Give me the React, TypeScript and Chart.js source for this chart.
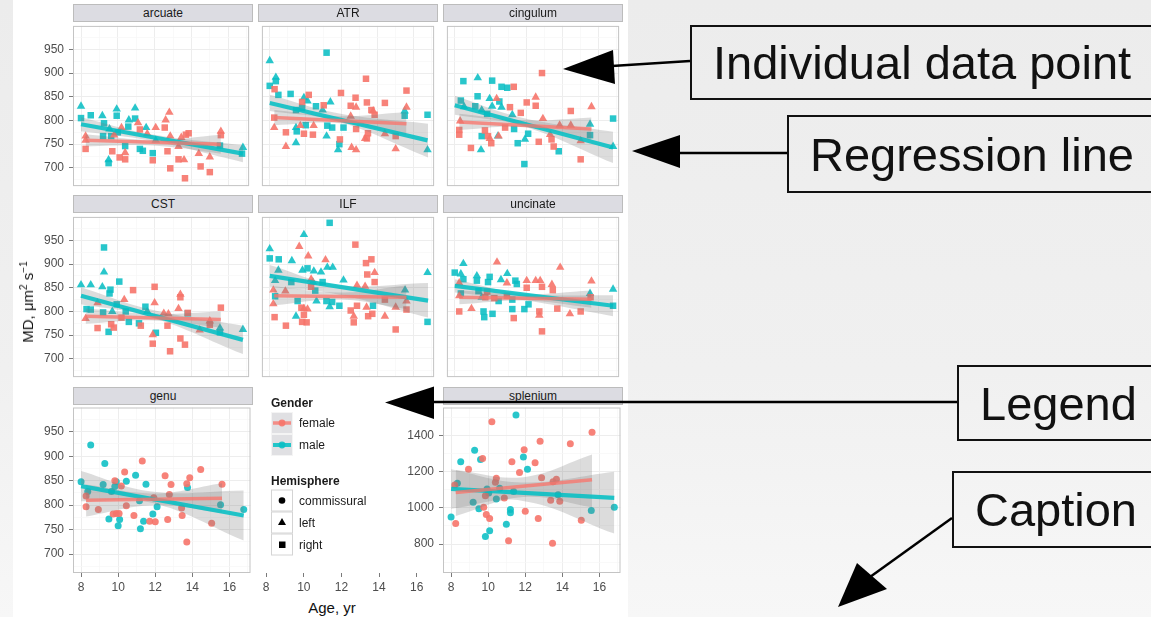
import React, { useEffect, useRef } from "react";
import { Chart, registerables } from "chart.js";
Chart.register(...registerables);

type Pt = [number, number];
type Band = [number, number, number];

const FONT = '"Liberation Sans", Arial, Helvetica, sans-serif';

// ---------- axes ----------
const AGE_MIN = 7.565;
const AGE_MAX = 17.135;
const ageMajorTicks = [8, 10, 12, 14, 16];
const ageMinorTicks = [9, 11, 13, 15, 17];
const mdMin = 661.5;
const mdMax = 999.5;
const mdMajorTicks = [700, 750, 800, 850, 900, 950];
const mdMinorTicks = [675, 725, 775, 825, 875, 925, 975];
const splMin = 640;
const splMax = 1555;
const splMajorTicks = [800, 1000, 1200, 1400];
const splMinorTicks = [700, 900, 1100, 1300, 1500];

// ---------- data: [age, MD] ----------
const arcuateMaleLeft: Pt[] = [[8.0, 830], [9.16, 810], [9.94, 824], [10.94, 826], [10.6, 801], [11.54, 785], [9.55, 782], [9.5, 717], [12.06, 758], [16.8, 743]];
const arcuateMaleRight: Pt[] = [[8.0, 805], [8.53, 811], [9.25, 794], [9.94, 810], [10.94, 804], [10.57, 787], [9.2, 767], [9.64, 767], [10.0, 775], [10.4, 746], [11.2, 740], [11.36, 736], [11.9, 731], [9.5, 710], [15.55, 747], [16.75, 730]];
const arcuateFemaleLeft: Pt[] = [[8.25, 767], [8.25, 758], [9.8, 769], [10.4, 732], [10.2, 785], [11.1, 795], [12.06, 785], [12.6, 801], [12.8, 817], [11.6, 772], [12.85, 767], [13.3, 745], [13.6, 717], [13.45, 764], [14.4, 730], [15.0, 723], [15.6, 777]];
const arcuateFemaleRight: Pt[] = [[8.25, 740], [9.7, 735], [10.1, 722], [10.4, 718], [11.2, 781], [12.55, 785], [11.9, 716], [12.7, 735], [12.85, 699], [13.3, 718], [13.7, 770], [13.85, 773], [13.65, 678], [14.5, 703], [15.0, 691], [15.6, 769]];

const atrMaleLeft: Pt[] = [[8.0, 926], [8.34, 891], [9.9, 848], [10.1, 841], [10.94, 822], [11.37, 839], [9.46, 785], [9.46, 753], [11.16, 767], [11.8, 738], [15.5, 820], [16.77, 738]];
const atrMaleRight: Pt[] = [[8.34, 883], [8.0, 873], [8.48, 854], [9.16, 856], [11.16, 943], [9.8, 826], [10.57, 830], [9.46, 822], [10.0, 790], [9.5, 777], [11.2, 789], [11.47, 785], [12.1, 785], [11.87, 750], [15.5, 810], [16.77, 812]];
const atrFemaleLeft: Pt[] = [[8.25, 785], [8.9, 745], [9.7, 789], [10.44, 789], [12.8, 828], [12.5, 809], [12.55, 743], [12.8, 738], [13.3, 762], [14.4, 772], [15.0, 740], [15.6, 828], [13.75, 820]];
const atrFemaleRight: Pt[] = [[8.27, 866], [8.25, 806], [8.9, 775], [10.17, 854], [9.8, 839], [9.9, 772], [10.4, 770], [11.0, 832], [11.96, 858], [12.5, 831], [12.77, 848], [11.9, 760], [12.8, 782], [13.35, 888], [13.4, 838], [13.65, 822], [13.83, 812], [13.46, 773], [13.4, 762], [14.4, 837], [15.0, 767], [15.6, 863]];

const cingulumMaleLeft: Pt[] = [[9.28, 890], [9.94, 846], [8.52, 829], [9.5, 822], [10.08, 830], [10.6, 828], [11.2, 812], [10.4, 767], [9.46, 738], [15.52, 792], [16.8, 745], [11.9, 760]];
const cingulumMaleRight: Pt[] = [[8.48, 883], [10.08, 884], [10.6, 871], [10.92, 869], [9.27, 851], [10.48, 840], [8.34, 842], [9.14, 830], [9.8, 814], [11.3, 782], [9.5, 767], [11.5, 752], [12.08, 772], [11.87, 708], [15.52, 769], [16.8, 804], [13.78, 735]];
const cingulumFemaleLeft: Pt[] = [[10.33, 846], [12.5, 849], [12.9, 804], [15.6, 829], [8.3, 799], [10.44, 767], [13.83, 790], [14.45, 790], [15.0, 757], [13.3, 770], [9.95, 762]];
const cingulumFemaleRight: Pt[] = [[12.85, 900], [11.28, 871], [11.07, 828], [11.67, 816], [12.5, 831], [14.45, 820], [8.25, 780], [8.25, 770], [8.9, 742], [9.68, 779], [9.85, 767], [10.03, 752], [10.8, 785], [12.67, 755], [13.38, 760], [13.5, 745], [15.0, 718], [12.0, 838]];

const cstMaleLeft: Pt[] = [[8.0, 856], [8.53, 856], [9.25, 883], [9.16, 852], [9.7, 800], [15.55, 765], [16.8, 762], [11.6, 800]];
const cstMaleRight: Pt[] = [[9.25, 935], [9.6, 846], [9.55, 838], [10.08, 863], [8.3, 805], [8.53, 804], [9.2, 798], [9.94, 815], [10.43, 800], [9.5, 757], [10.6, 778], [11.15, 775], [11.5, 810], [12.07, 755], [13.8, 796], [15.55, 756]];
const cstFemaleLeft: Pt[] = [[8.25, 785], [8.9, 818], [10.35, 825], [12.0, 818], [11.9, 751], [12.5, 796], [13.4, 836], [13.3, 806], [14.45, 761], [15.0, 780], [12.75, 795]];
const cstFemaleRight: Pt[] = [[8.9, 765], [9.64, 773], [9.78, 766], [10.83, 845], [12.0, 852], [11.9, 732], [12.84, 716], [13.4, 830], [13.8, 797], [13.4, 743], [13.65, 730], [15.6, 808], [11.25, 770], [12.7, 770], [15.0, 772], [10.2, 787]];

const ilfMaleLeft: Pt[] = [[9.9, 962], [8.0, 932], [9.23, 907], [9.82, 887], [10.45, 885], [10.85, 883], [11.2, 893], [11.5, 893], [8.48, 887], [8.3, 865], [12.1, 866], [10.6, 822], [11.33, 810], [9.46, 790], [15.52, 845], [16.77, 882], [10.4, 862]];
const ilfMaleRight: Pt[] = [[11.33, 987], [8.0, 912], [8.5, 910], [10.1, 891], [10.94, 862], [10.53, 844], [9.55, 822], [11.15, 822], [11.47, 820], [11.87, 812], [13.74, 812], [16.77, 778], [8.3, 832], [9.2, 862]];
const ilfFemaleLeft: Pt[] = [[9.64, 937], [10.14, 917], [11.1, 909], [13.83, 882], [12.85, 855], [13.3, 853], [8.2, 845], [8.2, 816], [8.87, 843], [10.3, 868], [9.9, 806], [12.67, 790], [13.38, 809], [14.4, 790], [15.0, 809], [15.6, 822], [10.1, 805]];
const ilfFemaleRight: Pt[] = [[12.76, 941], [13.35, 902], [13.65, 910], [13.42, 878], [13.83, 862], [8.27, 788], [8.9, 770], [9.76, 808], [9.9, 793], [9.8, 778], [10.05, 777], [10.3, 852], [12.5, 802], [12.85, 812], [12.67, 777], [13.47, 790], [13.7, 795], [14.4, 825], [15.0, 762], [15.6, 804]];

const uncinateMaleLeft: Pt[] = [[8.48, 901], [8.34, 879], [9.23, 875], [10.57, 867], [10.92, 880], [9.5, 830], [15.52, 838], [16.8, 847]];
const uncinateMaleRight: Pt[] = [[8.0, 882], [8.48, 868], [9.23, 865], [9.94, 873], [9.85, 862], [11.37, 865], [11.45, 858], [9.32, 843], [8.34, 838], [10.44, 822], [11.2, 825], [12.1, 815], [11.87, 805], [9.6, 800], [9.64, 788], [10.1, 795], [11.2, 805], [16.8, 812]];
const uncinateFemaleLeft: Pt[] = [[10.35, 904], [13.86, 893], [15.6, 864], [12.0, 865], [12.5, 865], [12.75, 865], [13.4, 857], [10.9, 860], [8.25, 860], [8.25, 833], [8.93, 806], [12.7, 792], [14.4, 795]];
const uncinateFemaleRight: Pt[] = [[12.0, 850], [12.85, 852], [13.45, 845], [8.25, 800], [9.7, 830], [9.8, 842], [10.2, 828], [10.9, 833], [11.28, 786], [12.7, 800], [12.85, 758], [13.7, 806], [15.0, 800], [15.55, 830]];

const genuMale: Pt[] = [[8.0, 848], [8.52, 923], [8.36, 828], [9.28, 885], [9.19, 842], [9.64, 828], [9.82, 838], [9.9, 848], [10.44, 849], [10.94, 861], [11.5, 843], [9.5, 772], [10.08, 771], [10.0, 758], [11.15, 809], [11.2, 752], [11.37, 767], [11.87, 782], [12.1, 797], [13.74, 836], [15.52, 801], [16.77, 791]];
const genuFemale: Pt[] = [[8.27, 819], [8.27, 797], [8.93, 791], [9.82, 850], [10.17, 839], [10.35, 868], [10.44, 799], [9.73, 782], [9.9, 783], [10.05, 783], [10.85, 779], [11.3, 890], [11.92, 815], [11.7, 767], [12.0, 766], [12.53, 860], [12.85, 842], [12.76, 822], [12.67, 771], [13.42, 794], [13.45, 779], [13.7, 844], [13.86, 856], [13.7, 725], [14.45, 873], [15.04, 763], [15.6, 843]];

const spleniumMale: Pt[] = [[8.0, 949], [8.34, 1136], [8.52, 1255], [9.27, 1318], [9.59, 1267], [9.19, 1031], [9.5, 995], [9.85, 842], [10.08, 873], [9.94, 1104], [10.03, 1082], [10.44, 1049], [10.62, 1109], [10.98, 909], [11.2, 991], [11.2, 973], [11.5, 1513], [11.9, 1282], [12.12, 1213], [11.37, 1091], [13.77, 1073], [15.56, 985], [16.8, 1004]];
const spleniumFemale: Pt[] = [[8.25, 913], [8.2, 1127], [8.94, 1213], [9.7, 1273], [9.76, 1004], [9.9, 964], [10.08, 942], [10.2, 1476], [10.39, 1142], [10.44, 1164], [9.85, 1067], [10.87, 1055], [11.1, 818], [11.28, 1255], [11.69, 1196], [11.94, 1322], [12.0, 982], [12.53, 1249], [12.7, 942], [12.8, 1369], [12.88, 1167], [13.37, 1042], [13.47, 805], [13.5, 1145], [13.68, 1158], [13.86, 1036], [14.43, 1355], [15.02, 931], [15.6, 1418]];

// regression lines (start, end) and confidence bands [age, lower, upper]
const arcuateMaleFit: Pt[] = [[8.0, 792], [16.8, 730]];
const arcuateFemaleFit: Pt[] = [[8.25, 758], [15.6, 750]];
const atrMaleFit: Pt[] = [[8.0, 837], [16.77, 758]];
const atrFemaleFit: Pt[] = [[8.25, 806], [15.6, 793]];
const cingulumMaleFit: Pt[] = [[8.0, 832], [16.8, 743]];
const cingulumFemaleFit: Pt[] = [[8.25, 797], [15.6, 782]];
const cstMaleFit: Pt[] = [[8.0, 833], [16.8, 740]];
const cstFemaleFit: Pt[] = [[8.25, 790], [15.6, 783]];
const ilfMaleFit: Pt[] = [[8.0, 875], [16.8, 823]];
const ilfFemaleFit: Pt[] = [[8.25, 833], [15.6, 830]];
const uncinateMaleFit: Pt[] = [[8.0, 854], [16.8, 812]];
const uncinateFemaleFit: Pt[] = [[8.25, 830], [15.6, 826]];
const genuMaleFit: Pt[] = [[8.0, 839], [16.77, 779]];
const genuFemaleFit: Pt[] = [[8.27, 810], [15.6, 814]];
const spleniumMaleFit: Pt[] = [[8.0, 1105], [16.8, 1055]];
const spleniumFemaleFit: Pt[] = [[8.25, 1085], [15.6, 1155]];

const arcuateMaleBand: Band[] = [[8.0, 777, 807], [11.8, 757, 771], [16.8, 712, 748]];
const arcuateFemaleBand: Band[] = [[8.25, 745, 771], [11.9, 747, 759], [15.6, 730, 770]];
const atrMaleBand: Band[] = [[8.0, 820, 854], [11.8, 798, 815], [16.8, 722, 793]];
const atrFemaleBand: Band[] = [[8.25, 790, 822], [11.9, 794, 809], [15.6, 768, 818]];
const cingulumMaleBand: Band[] = [[8.0, 812, 852], [11.8, 788, 805], [16.8, 710, 776]];
const cingulumFemaleBand: Band[] = [[8.25, 780, 814], [11.9, 786, 800], [15.6, 758, 806]];
const cstMaleBand: Band[] = [[8.0, 815, 851], [11.8, 788, 804], [16.8, 710, 770]];
const cstFemaleBand: Band[] = [[8.25, 774, 806], [11.9, 781, 795], [15.6, 766, 800]];
const ilfMaleBand: Band[] = [[8.0, 852, 898], [11.8, 836, 856], [16.8, 787, 860]];
const ilfFemaleBand: Band[] = [[8.25, 813, 853], [11.9, 825, 840], [15.6, 805, 855]];
const uncinateMaleBand: Band[] = [[8.0, 840, 868], [11.8, 824, 838], [16.8, 790, 834]];
const uncinateFemaleBand: Band[] = [[8.25, 815, 845], [11.9, 823, 836], [15.6, 808, 844]];
const genuMaleBand: Band[] = [[8.0, 808, 870], [11.8, 805, 828], [16.77, 728, 830]];
const genuFemaleBand: Band[] = [[8.27, 777, 842], [11.9, 800, 824], [15.6, 784, 845]];
const spleniumMaleBand: Band[] = [[8.0, 995, 1213], [11.8, 1040, 1140], [16.8, 858, 1200]];
const spleniumFemaleBand: Band[] = [[8.25, 955, 1209], [11.9, 1060, 1170], [15.6, 1004, 1295]];

const legendGender = ["female", "male"];
const legendHemisphere = ["commissural", "left", "right"];

// ---------- style ----------
const FEMALE = "rgba(246,116,106,0.9)";
const MALE = "rgba(10,190,196,0.88)";
const FEMALE_LINE = "rgba(248,118,109,0.78)";
const MALE_LINE = "rgba(0,191,196,0.85)";
const BAND = "rgba(120,120,120,0.26)";
const CLEAR = "rgba(0,0,0,0)";

const COL_X = [73, 258, 443];
const ROW_Y = [22, 213, 405];
const PW = 180;
const PH = 168;
const Y_AXIS_W = 40;
const X_AXIS_H = 26;

const radiusFor = (s: string) => (s === "circle" ? 3.5 : s === "triangle" ? 4.9 : 4.6);

const pointsDs = (d: Pt[], color: string, style: string) => ({
  type: "scatter",
  data: d.map(([x, y]) => ({ x, y })),
  backgroundColor: color,
  borderColor: CLEAR,
  borderWidth: 0,
  pointStyle: style,
  pointRadius: radiusFor(style),
  pointHoverRadius: radiusFor(style),
  order: 3,
});

const bandDs = (b: Band[]) => [
  {
    type: "line",
    data: b.map(([x, , hi]) => ({ x, y: hi })),
    fill: "+1",
    backgroundColor: BAND,
    borderColor: CLEAR,
    borderWidth: 0,
    pointRadius: 0,
    tension: 0.4,
    order: 2,
  },
  {
    type: "line",
    data: b.map(([x, lo]) => ({ x, y: lo })),
    fill: false,
    backgroundColor: CLEAR,
    borderColor: CLEAR,
    borderWidth: 0,
    pointRadius: 0,
    tension: 0.4,
    order: 2,
  },
];

const fitDs = (f: Pt[], color: string, width: number) => ({
  type: "line",
  data: f.map(([x, y]) => ({ x, y })),
  borderColor: color,
  borderWidth: width,
  borderCapStyle: "butt",
  pointRadius: 0,
  fill: false,
  order: 1,
});

function tractSets(fl: Pt[], fr: Pt[], ml: Pt[], mr: Pt[], ff: Pt[], mf: Pt[], fb: Band[], mb: Band[]) {
  return [
    pointsDs(fl, FEMALE, "triangle"),
    pointsDs(fr, FEMALE, "rect"),
    pointsDs(ml, MALE, "triangle"),
    pointsDs(mr, MALE, "rect"),
    ...bandDs(fb),
    ...bandDs(mb),
    fitDs(ff, FEMALE_LINE, 3.5),
    fitDs(mf, MALE_LINE, 4.2),
  ];
}

function commSets(f: Pt[], m: Pt[], ff: Pt[], mf: Pt[], fb: Band[], mb: Band[]) {
  return [
    pointsDs(f, FEMALE, "circle"),
    pointsDs(m, MALE, "circle"),
    ...bandDs(fb),
    ...bandDs(mb),
    fitDs(ff, FEMALE_LINE, 3.5),
    fitDs(mf, MALE_LINE, 4.2),
  ];
}

function axis(kind: "x" | "y", min: number, max: number, major: number[], minor: number[], showLabels: boolean, drawArea: boolean) {
  const all = [...major, ...minor].sort((a, b) => a - b);
  const isMajor = (v: any) => major.includes(v);
  return {
    type: "linear",
    position: kind === "x" ? "bottom" : "left",
    min,
    max,
    afterBuildTicks: (s: any) => {
      s.ticks = all.map((v) => ({ value: v }));
    },
    afterFit: (s: any) => {
      if (kind === "x") s.height = showLabels ? X_AXIS_H - 1 : 0;
      else s.width = showLabels ? Y_AXIS_W - 1 : 0;
      s.paddingLeft = 0;
      s.paddingRight = 0;
      s.paddingTop = 0;
      s.paddingBottom = 0;
    },
    border: { display: false },
    grid: {
      drawOnChartArea: drawArea,
      drawTicks: showLabels,
      tickLength: 4,
      color: (c: any) => (isMajor(c.tick && c.tick.value) ? "#ededed" : "#f6f6f6"),
      lineWidth: (c: any) => (isMajor(c.tick && c.tick.value) ? 1 : 0.7),
      tickColor: (c: any) => (isMajor(c.tick && c.tick.value) ? "#7a7a7a" : CLEAR),
      tickWidth: 1,
    },
    ticks: {
      display: showLabels,
      autoSkip: false,
      maxRotation: 0,
      minRotation: 0,
      padding: kind === "x" ? 3 : 5,
      color: "#4d4d4d",
      font: { family: FONT, size: 12 },
      callback: (v: any) => (isMajor(v) ? String(v) : ""),
    },
  };
}

const framePlugin = {
  id: "panelFrame",
  afterDatasetsDraw(chart: any, _args: any, opts: any) {
    if (!opts || !opts.show) return;
    const { left, top, right, bottom } = chart.chartArea;
    const ctx = chart.ctx;
    ctx.save();
    ctx.strokeStyle = "#c4c4c4";
    ctx.lineWidth = 1;
    ctx.strokeRect(left + 0.5, top + 0.5, right - left - 1, bottom - top - 1);
    ctx.restore();
  },
};

type PanelProps = {
  col: number;
  row: number;
  showX: boolean;
  showY: boolean;
  drawArea: boolean;
  yMin: number;
  yMax: number;
  yMajor: number[];
  yMinor: number[];
  datasets: any[];
};

function Panel(p: PanelProps) {
  const ref = useRef<HTMLCanvasElement>(null);
  const padL = p.showY ? Y_AXIS_W : 1;
  const padB = p.showX ? X_AXIS_H : 1;
  const cw = padL + PW + 1;
  const ch = 1 + PH + padB;
  const left = COL_X[p.col] - padL;
  const top = ROW_Y[p.row] - 1;
  useEffect(() => {
    const chart = new Chart(ref.current as HTMLCanvasElement, {
      type: "scatter",
      data: { datasets: p.datasets as any },
      options: {
        animation: false,
        responsive: false,
        devicePixelRatio: 1,
        events: [],
        layout: { padding: { left: 1, right: 1, top: 1, bottom: 1 } },
        plugins: {
          legend: { display: false },
          tooltip: { enabled: false },
          panelFrame: { show: p.drawArea },
        } as any,
        scales: {
          x: axis("x", AGE_MIN, AGE_MAX, ageMajorTicks, ageMinorTicks, p.showX, p.drawArea) as any,
          y: { ...(axis("y", p.yMin, p.yMax, p.yMajor, p.yMinor, p.showY, p.drawArea) as any), display: p.drawArea || p.showY },
        },
      },
      plugins: [framePlugin],
    });
    return () => chart.destroy();
  }, []);
  return (
    <canvas
      ref={ref}
      width={cw}
      height={ch}
      style={{ position: "absolute", left, top, width: cw, height: ch, display: "block" }}
    />
  );
}

const stripStyle = (col: number, row: number): React.CSSProperties => ({
  position: "absolute",
  left: COL_X[col],
  top: ROW_Y[row] - 18,
  width: PW,
  height: 18,
  boxSizing: "border-box",
  background: "#dcdce2",
  border: "1px solid #bcbcbc",
  color: "#1a1a1a",
  font: `12px ${FONT}`,
  lineHeight: "16px",
  textAlign: "center",
});

function Box({ left, top, height, text }: { left: number; top: number; height: number; text: string }) {
  return (
    <div
      style={{
        position: "absolute",
        left,
        top,
        width: 1160 - left,
        height,
        boxSizing: "border-box",
        border: "2.5px solid #111",
        display: "flex",
        alignItems: "center",
        paddingLeft: 21,
        font: `47px ${FONT}`,
        color: "#111",
        whiteSpace: "nowrap",
      }}
    >
      {text}
    </div>
  );
}

export default function App() {
  const md = { yMin: mdMin, yMax: mdMax, yMajor: mdMajorTicks, yMinor: mdMinorTicks };
  const panels: (PanelProps & { name: string })[] = [
    { name: "arcuate", col: 0, row: 0, showX: false, showY: true, drawArea: true, ...md, datasets: tractSets(arcuateFemaleLeft, arcuateFemaleRight, arcuateMaleLeft, arcuateMaleRight, arcuateFemaleFit, arcuateMaleFit, arcuateFemaleBand, arcuateMaleBand) },
    { name: "ATR", col: 1, row: 0, showX: false, showY: false, drawArea: true, ...md, datasets: tractSets(atrFemaleLeft, atrFemaleRight, atrMaleLeft, atrMaleRight, atrFemaleFit, atrMaleFit, atrFemaleBand, atrMaleBand) },
    { name: "cingulum", col: 2, row: 0, showX: false, showY: false, drawArea: true, ...md, datasets: tractSets(cingulumFemaleLeft, cingulumFemaleRight, cingulumMaleLeft, cingulumMaleRight, cingulumFemaleFit, cingulumMaleFit, cingulumFemaleBand, cingulumMaleBand) },
    { name: "CST", col: 0, row: 1, showX: false, showY: true, drawArea: true, ...md, datasets: tractSets(cstFemaleLeft, cstFemaleRight, cstMaleLeft, cstMaleRight, cstFemaleFit, cstMaleFit, cstFemaleBand, cstMaleBand) },
    { name: "ILF", col: 1, row: 1, showX: false, showY: false, drawArea: true, ...md, datasets: tractSets(ilfFemaleLeft, ilfFemaleRight, ilfMaleLeft, ilfMaleRight, ilfFemaleFit, ilfMaleFit, ilfFemaleBand, ilfMaleBand) },
    { name: "uncinate", col: 2, row: 1, showX: false, showY: false, drawArea: true, ...md, datasets: tractSets(uncinateFemaleLeft, uncinateFemaleRight, uncinateMaleLeft, uncinateMaleRight, uncinateFemaleFit, uncinateMaleFit, uncinateFemaleBand, uncinateMaleBand) },
    { name: "genu", col: 0, row: 2, showX: true, showY: true, drawArea: true, ...md, datasets: commSets(genuFemale, genuMale, genuFemaleFit, genuMaleFit, genuFemaleBand, genuMaleBand) },
    { name: "", col: 1, row: 2, showX: true, showY: false, drawArea: false, ...md, datasets: [] },
    { name: "splenium", col: 2, row: 2, showX: true, showY: true, drawArea: true, yMin: splMin, yMax: splMax, yMajor: splMajorTicks, yMinor: splMinorTicks, datasets: commSets(spleniumFemale, spleniumMale, spleniumFemaleFit, spleniumMaleFit, spleniumFemaleBand, spleniumMaleBand) },
  ];

  const textStyle: React.CSSProperties = { position: "absolute", font: `12px ${FONT}`, color: "#1a1a1a", whiteSpace: "nowrap" };
  const keyX = 271;
  const genderKeyY = [412, 434];
  const hemiKeyY = [489.5, 511.5, 533.5];

  return (
    <div
      style={{
        position: "fixed",
        left: 0,
        top: 0,
        width: 1151,
        height: 617,
        overflow: "hidden",
        background: "linear-gradient(#ececec, #f0f0f0 60%, #f7f7f7)",
        fontFamily: FONT,
      }}
    >
      <div style={{ position: "absolute", left: 13, top: 0, width: 615, height: 617, background: "#ffffff" }} />

      {panels.map((p, i) => (
        <Panel key={i} {...p} />
      ))}
      {panels
        .filter((p) => p.name)
        .map((p) => (
          <div key={p.name} style={stripStyle(p.col, p.row)}>
            {p.name}
          </div>
        ))}

      {/* axis titles */}
      <div
        style={{
          position: "absolute",
          left: 27,
          top: 302,
          transform: "translate(-50%, -50%) rotate(-90deg)",
          font: `15px ${FONT}`,
          color: "#111",
          whiteSpace: "nowrap",
        }}
      >
        MD, μm<sup style={{ fontSize: 10 }}>2</sup> s<sup style={{ fontSize: 10 }}>−1</sup>
      </div>
      <div style={{ position: "absolute", left: 332, top: 599, transform: "translateX(-50%)", font: `15px ${FONT}`, color: "#111", whiteSpace: "nowrap" }}>
        Age, yr
      </div>

      {/* legend */}
      <div style={{ ...textStyle, left: keyX, top: 396, fontWeight: "bold" }}>Gender</div>
      <div style={{ ...textStyle, left: keyX, top: 474, fontWeight: "bold" }}>Hemisphere</div>
      <svg width={1151} height={617} style={{ position: "absolute", left: 0, top: 0 }}>
        {genderKeyY.map((y, i) => (
          <g key={"g" + i}>
            <rect x={keyX + 0.5} y={y + 0.5} width={21} height={21} fill="#e0e0e3" stroke="#f4f4f4" />
            <line x1={keyX + 2} x2={keyX + 20} y1={y + 11} y2={y + 11} stroke={i === 0 ? FEMALE_LINE : MALE_LINE} strokeWidth={i === 0 ? 3.5 : 4} />
            <circle cx={keyX + 11} cy={y + 11} r={3.4} fill={i === 0 ? FEMALE : MALE} />
          </g>
        ))}
        {hemiKeyY.map((y, i) => (
          <g key={"h" + i}>
            <rect x={keyX + 0.5} y={y + 0.5} width={21} height={21} fill="#ffffff" stroke="#d4d4d4" />
            {i === 0 && <circle cx={keyX + 11} cy={y + 11} r={3.3} fill="#000" />}
            {i === 1 && <polygon points={`${keyX + 11},${y + 6.4} ${keyX + 15},${y + 13.4} ${keyX + 7},${y + 13.4}`} fill="#000" />}
            {i === 2 && <rect x={keyX + 8} y={y + 8} width={6.5} height={6.5} fill="#000" />}
          </g>
        ))}
      </svg>
      {legendGender.map((t, i) => (
        <div key={t} style={{ ...textStyle, left: 299, top: genderKeyY[i] + 4 }}>
          {t}
        </div>
      ))}
      {legendHemisphere.map((t, i) => (
        <div key={t} style={{ ...textStyle, left: 299, top: hemiKeyY[i] + 4 }}>
          {t}
        </div>
      ))}

      {/* annotation boxes */}
      <Box left={690} top={25} height={75} text="Individual data point" />
      <Box left={787} top={115} height={78} text="Regression line" />
      <Box left={957} top={365} height={76} text="Legend" />
      <Box left={952} top={471} height={77} text="Caption" />

      {/* arrows */}
      <svg width={1151} height={617} style={{ position: "absolute", left: 0, top: 0, pointerEvents: "none" }}>
        <line x1={612} y1={66} x2={690} y2={61} stroke="#000" strokeWidth={2.5} />
        <polygon points="563,69 613,50 615,84" fill="#000" />
        <line x1={678} y1={153} x2={787} y2={153} stroke="#000" strokeWidth={2.5} />
        <polygon points="632,151 680,135 680,168" fill="#000" />
        <line x1={432} y1={402} x2={957} y2={402} stroke="#000" strokeWidth={2.5} />
        <polygon points="385,402.5 434,386.5 434,419" fill="#000" />
        <line x1={952} y1={518} x2={870} y2={577} stroke="#000" strokeWidth={2.5} />
        <polygon points="838,607 857,563 887,589" fill="#000" />
      </svg>
    </div>
  );
}
